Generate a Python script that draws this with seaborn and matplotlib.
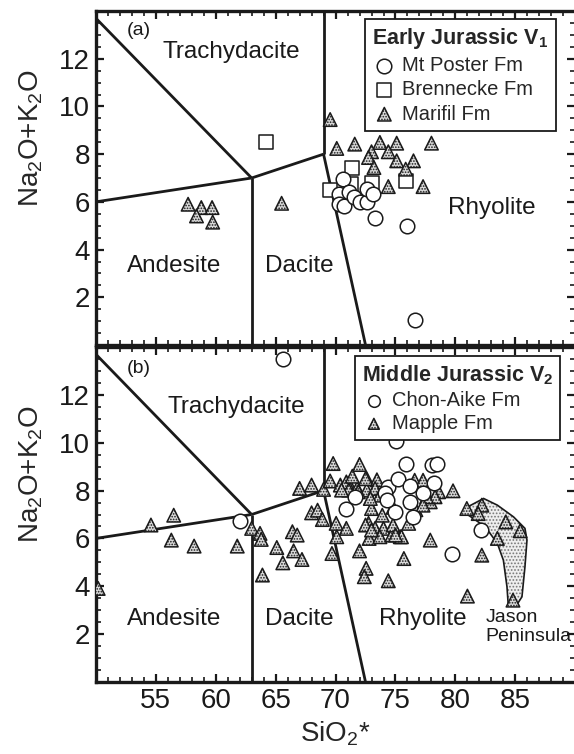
import matplotlib
matplotlib.use("Agg")
import matplotlib.pyplot as plt
import seaborn as sns
import numpy as np
import pandas as pd
from matplotlib.ticker import MultipleLocator

# ---------------- data ----------------
# Panel (a) Early Jurassic V1
mtposter_x = [70.6, 70.25, 70.25, 70.7, 71.1, 71.5, 72.0, 72.6, 72.6, 73.1, 73.3, 76.0, 76.6]
mtposter_y = [6.95, 6.32, 5.9, 5.83, 6.4, 6.2, 6.0, 6.0, 6.53, 6.32, 5.34, 4.99, 1.06]

brennecke_x = [64.2, 71.4, 69.5, 73.0, 75.9, 71.3]
brennecke_y = [8.49, 7.4, 6.5, 6.8, 6.88, 6.75]

marifil_x = [69.55, 70.1, 71.6, 73.7, 75.1, 78.0, 73.0, 74.4, 72.75, 75.1, 76.5, 73.2,
             75.85, 74.4, 77.3, 57.7, 58.8, 59.7, 58.4, 59.75, 65.5]
marifil_y = [9.45, 8.24, 8.42, 8.49, 8.46, 8.46, 8.1, 8.1, 7.86, 7.72, 7.72, 7.44,
             7.37, 6.64, 6.64, 5.9, 5.76, 5.76, 5.41, 5.15, 5.94]

# Panel (b) Middle Jurassic V2
chonaike_x = [65.65, 75.06, 75.9, 78.04, 78.5, 62.0, 70.9, 71.6, 74.4, 75.2, 76.2, 77.3,
              78.2, 76.2, 75.0, 76.5, 74.1, 82.1, 79.7, 74.3]
chonaike_y = [13.5, 10.08, 9.09, 9.06, 9.1, 6.72, 7.21, 7.74, 8.16, 8.5, 8.18, 7.88,
              8.3, 7.53, 7.11, 6.9, 7.88, 6.37, 5.34, 7.6]

mapple_x = [50.2, 54.6, 56.5, 56.3, 58.2, 61.8, 63.0, 63.7, 63.8, 63.9, 65.1, 65.6, 66.4,
            66.8, 66.5, 67.2, 67.0, 68.0, 69.0, 69.8, 72.0, 68.0, 68.5, 68.9, 70.05, 70.9,
            70.1, 69.7, 72.0, 72.55, 72.4, 74.4, 75.7, 77.9, 82.2, 81.0, 69.55, 70.4, 71.1,
            71.8, 72.6, 73.45, 72.6, 73.3, 73.7, 73.0, 73.9, 72.75, 73.3, 74.0, 74.7, 75.4,
            76.1, 74.8, 72.8, 73.7, 78.6, 79.8, 77.9, 78.3, 80.95, 82.2, 81.9, 84.2, 85.4,
            83.5, 84.8, 72.5, 72.9, 71.9, 70.9, 71.1, 70.5, 76.6, 77.3, 77.6, 72.5, 73.0,
            75.5, 75.0, 74.8, 76.7, 71.4, 77.3]
mapple_y = [3.91, 6.56, 6.97, 5.93, 5.68, 5.68, 6.42, 6.21, 5.96, 4.47, 5.62, 4.98, 6.28,
            6.14, 5.48, 5.12, 8.09, 8.23, 8.05, 9.13, 9.09, 7.07, 7.18, 6.79, 6.63, 6.42,
            6.07, 5.37, 5.48, 4.75, 4.4, 4.23, 5.16, 5.93, 5.3, 3.59, 8.4, 8.23, 8.3,
            8.09, 8.5, 8.45, 8.02, 8.09, 7.81, 7.25, 6.97, 6.63, 6.42, 6.42, 6.14, 6.07,
            6.63, 6.56, 6.0, 6.07, 7.95, 7.99, 7.53, 7.74, 7.25, 7.39, 7.04, 6.69, 6.32,
            6.0, 3.42, 8.5, 7.67, 7.95, 8.36, 8.02, 8.02, 8.43, 8.43, 7.74, 6.56, 6.35,
            6.07, 6.14, 7.3, 7.2, 8.6, 7.39]

# Jason Peninsula field outline
jason_x = [80.8, 82.35, 83.5, 84.85, 85.8, 85.97, 85.8, 85.55, 85.1, 84.4, 84.3, 84.0,
           83.5, 82.5, 81.5, 80.7]
jason_y = [7.26, 7.67, 7.39, 6.9, 6.42, 5.93, 4.81, 3.56, 3.21, 3.26, 3.98, 5.09,
           5.79, 6.48, 6.83, 7.1]

# TAS field boundaries
bound_segments = [
    ([50, 63], [13.7, 7.0]),
    ([50, 63], [6.0, 7.0]),
    ([63, 69], [7.0, 8.0]),
    ([63, 63], [0.0, 7.0]),
    ([69, 69], [8.0, 14.0]),
    ([69, 72.5], [8.0, 0.0]),
]

x_ticks = [55, 60, 65, 70, 75, 80, 85]
y_ticks = [2, 4, 6, 8, 10, 12]

# ---------------- style ----------------
sns.set_theme(style="ticks")
plt.rcParams['font.family'] = ['Liberation Sans', 'DejaVu Sans']
plt.rcParams['mathtext.fontset'] = 'custom'
plt.rcParams['mathtext.rm'] = 'Liberation Sans'
plt.rcParams['mathtext.it'] = 'Liberation Sans:italic'
plt.rcParams['mathtext.bf'] = 'Liberation Sans:bold'
plt.rcParams['hatch.linewidth'] = 0.8

fig = plt.figure(figsize=(5.74, 7.54), dpi=100)
L = 95.8 / 574
W = 479.5 / 574
ax_a = fig.add_axes([L, 1 - 345 / 754, W, (345 - 11) / 754])
ax_b = fig.add_axes([L, 1 - 682 / 754, W, (682 - 347) / 754])

tri_face = '#d9d9d9'

def draw_common(ax):
    for xs, ys in bound_segments:
        ax.plot(xs, ys, color='#1a1a1a', lw=2.0, zorder=2, solid_capstyle='butt')
    ax.set_xlim(50, 90)
    ax.set_ylim(0, 14)
    ax.set_xticks(x_ticks)
    ax.xaxis.set_minor_locator(MultipleLocator(1))
    ax.set_yticks(y_ticks)
    ax.yaxis.set_minor_locator(MultipleLocator(0.5))
    ax.tick_params(which='both', direction='in', top=True, right=True, colors='#1a1a1a')
    ax.tick_params(which='major', length=6, width=1.6, labelsize=20, pad=4)
    ax.tick_params(which='minor', length=3.5, width=1.2)
    for s in ax.spines.values():
        s.set_linewidth(2.4)
        s.set_color('#1a1a1a')
    ax.set_ylabel('Na$_2$O+K$_2$O', fontsize=20)
    ax.yaxis.set_label_coords(-0.105, 0.62)

def tri(ax, x, y, label):
    df = pd.DataFrame({'x': x, 'y': y})
    sns.scatterplot(data=df, x='x', y='y', ax=ax, marker='^', s=95, color=tri_face,
                    edgecolor='#1a1a1a', linewidth=1.1, hatch='......', label=label, zorder=4)

def circ(ax, x, y, label):
    df = pd.DataFrame({'x': x, 'y': y})
    sns.scatterplot(data=df, x='x', y='y', ax=ax, marker='o', s=110, color='white',
                    edgecolor='#1a1a1a', linewidth=1.1, label=label, zorder=5)

def sq(ax, x, y, label):
    df = pd.DataFrame({'x': x, 'y': y})
    sns.scatterplot(data=df, x='x', y='y', ax=ax, marker='s', s=95, color='white',
                    edgecolor='#1a1a1a', linewidth=1.1, label=label, zorder=3)

# ----- panel a -----
draw_common(ax_a)
sq(ax_a, brennecke_x, brennecke_y, 'Brennecke Fm')
tri(ax_a, marifil_x, marifil_y, 'Marifil Fm')
circ(ax_a, mtposter_x, mtposter_y, 'Mt Poster Fm')
ax_a.set_xlabel('')
ax_a.tick_params(axis='x', labelbottom=False)
lab_kw = dict(fontsize=17.5, color='#1a1a1a', ha='center', va='center')
ax_a.text(61.3, 12.28, 'Trachydacite', **lab_kw)
ax_a.text(56.5, 3.3, 'Andesite', **lab_kw)
ax_a.text(67.0, 3.3, 'Dacite', **lab_kw)
ax_a.text(83.05, 5.76, 'Rhyolite', **lab_kw)
ax_a.text(53.55, 13.2, '(a)', fontsize=14, ha='center', va='center', color='#1a1a1a')
h, l = ax_a.get_legend_handles_labels()
order = [l.index('Mt Poster Fm'), l.index('Brennecke Fm'), l.index('Marifil Fm')]
leg = ax_a.legend([h[i] for i in order], [l[i] for i in order],
                  title='Early Jurassic V$_{\\mathbf{1}}$', loc='upper right',
                  bbox_to_anchor=(0.959, 0.975), borderaxespad=0, fontsize=14.5,
                  title_fontproperties={'weight': 'bold', 'size': 15.5},
                  alignment='left', fancybox=False, framealpha=1, edgecolor='#1a1a1a',
                  handletextpad=0.3, handlelength=1.2, borderpad=0.35, labelspacing=0.25,
                  markerscale=1.0)
leg.get_frame().set_linewidth(1.3)
leg.set_zorder(10)

# ----- panel b -----
draw_common(ax_b)
ax_b.fill(jason_x, jason_y, facecolor='#eeeeee', edgecolor='#777777', hatch='.....',
          lw=0, zorder=1)
ax_b.fill(jason_x, jason_y, facecolor='none', edgecolor='#1a1a1a', lw=1.2, zorder=1.5)
tri(ax_b, mapple_x, mapple_y, 'Mapple Fm')
circ(ax_b, chonaike_x, chonaike_y, 'Chon-Aike Fm')
ax_b.set_xlabel('SiO$_2$*', fontsize=20, labelpad=4)
ax_b.text(61.76, 11.5, 'Trachydacite', **lab_kw)
ax_b.text(56.5, 2.62, 'Andesite', **lab_kw)
ax_b.text(67.0, 2.62, 'Dacite', **lab_kw)
ax_b.text(77.3, 2.62, 'Rhyolite', **lab_kw)
ax_b.text(82.5, 2.3, 'Jason\nPeninsula', fontsize=14, ha='left', va='center',
          color='#1a1a1a', linespacing=1.1)
ax_b.text(53.55, 13.1, '(b)', fontsize=14, ha='center', va='center', color='#1a1a1a')
h, l = ax_b.get_legend_handles_labels()
order = [l.index('Chon-Aike Fm'), l.index('Mapple Fm')]
leg = ax_b.legend([h[i] for i in order], [l[i] for i in order],
                  title='Middle Jurassic V$_{\\mathbf{2}}$', loc='upper right',
                  bbox_to_anchor=(0.969, 0.972), borderaxespad=0, fontsize=14.5,
                  title_fontproperties={'weight': 'bold', 'size': 15.5},
                  alignment='left', fancybox=False, framealpha=1, edgecolor='#1a1a1a',
                  handletextpad=0.3, handlelength=1.2, borderpad=0.35, labelspacing=0.2,
                  markerscale=0.8)
leg.get_frame().set_linewidth(1.3)
leg.set_zorder(10)

fig.savefig('out.png', dpi=100)
